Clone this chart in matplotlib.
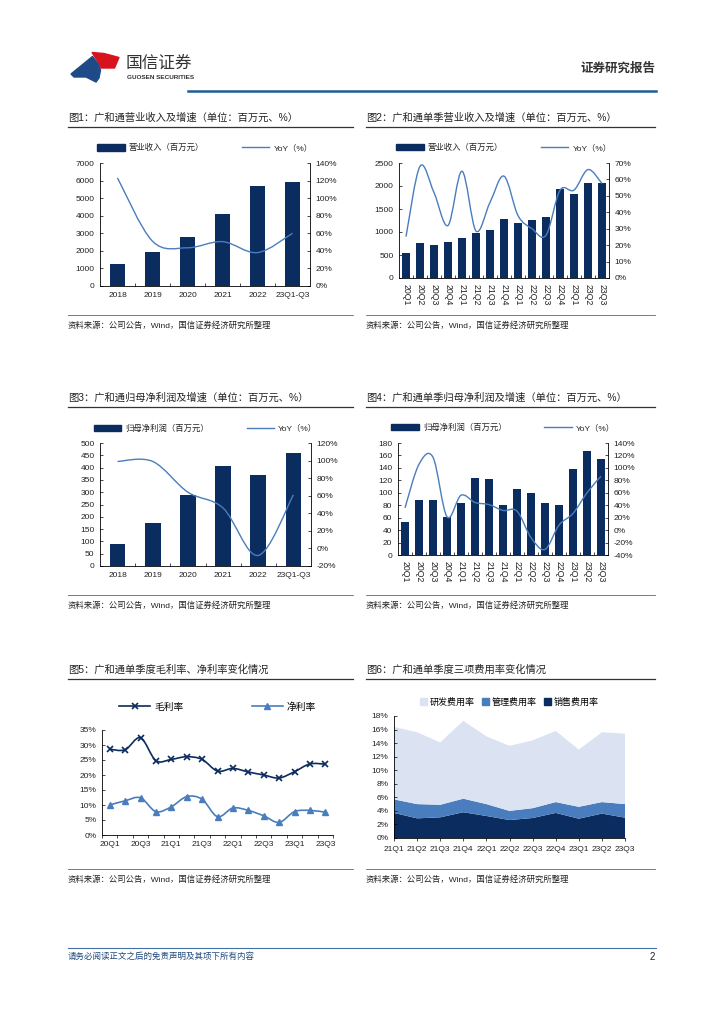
import numpy as np
import matplotlib
matplotlib.use('Agg')
import matplotlib.pyplot as plt
from matplotlib.path import Path
from matplotlib.patches import PathPatch, Polygon, Patch
from matplotlib.lines import Line2D

plt.rcParams['font.family'] = ['Liberation Sans', 'Noto Sans CJK SC', 'DejaVu Sans']
plt.rcParams['axes.linewidth'] = 0.6

W, H = 724, 1024

# ---------------- data ----------------
years = ['2018', '2019', '2020', '2021', '2022', '23Q1-Q3']
quarters = ['20Q1', '20Q2', '20Q3', '20Q4', '21Q1', '21Q2', '21Q3', '21Q4',
            '22Q1', '22Q2', '22Q3', '22Q4', '23Q1', '23Q2', '23Q3']
quarters6 = ['21Q1', '21Q2', '21Q3', '21Q4', '22Q1', '22Q2', '22Q3', '22Q4',
             '23Q1', '23Q2', '23Q3']

rev_year = [1280, 1960, 2810, 4120, 5690, 5940]
rev_year_yoy = [123, 51, 43.5, 50.5, 38, 60]

rev_q = [540, 771, 720, 793, 879, 987, 1045, 1275, 1203, 1261, 1326, 1945, 1830, 2061, 2061]
rev_q_yoy = [25.2, 68, 52, 32, 65, 28.6, 46, 62, 38, 30, 26, 53.4, 53.5, 66, 57.5]

np_year = [88, 174, 288, 408, 370, 459]
np_year_yoy = [99, 99, 64, 46, -8, 61]

np_q = [53.4, 87.6, 87.6, 61.4, 82.8, 123.4, 122.3, 80, 105.8, 100.4, 83.3, 80, 137.8, 167.2, 153.8]
np_q_yoy = [35.8, 105.8, 117, 21.4, 56, 44.4, 41, 31.6, 30.5, -12, -31, 8, 26.8, 60, 86.6]

gross_margin = [28.6, 28.4, 32.4, 24.8, 25.2, 26.1, 25.2, 21.3, 22.2, 21.0, 20.0, 19.0, 21.1, 23.7, 23.6]
net_margin = [10.0, 11.4, 12.4, 7.8, 9.4, 12.8, 11.9, 6.1, 9.0, 8.2, 6.4, 4.2, 7.8, 8.2, 7.6]

sales_rate = [3.7, 2.9, 3.05, 3.8, 3.25, 2.65, 2.95, 3.7, 2.85, 3.6, 3.0]
admin_rate = [2.0, 2.1, 1.85, 2.0, 1.75, 1.35, 1.45, 1.6, 1.75, 1.7, 2.0]
rd_rate = [10.7, 10.6, 9.2, 11.5, 10.0, 9.6, 10.0, 10.5, 8.45, 10.3, 10.4]

NAVY = '#0b2c5f'
BLUE = '#4a7dbd'
LIGHT = '#dbe3f3'
TXT = '#222222'


def fx(x):
    return x / W


def fy(y):
    return 1 - y / H


def ax_rect(l, t, r, b):
    return [fx(l), fy(b), (r - l) / W, (b - t) / H]


def smooth_line(ax, x, y, **kw):
    pts = np.column_stack([np.asarray(x, float), np.asarray(y, float)])
    ext = np.vstack([pts[0], pts, pts[-1]])
    verts = [pts[0]]
    codes = [Path.MOVETO]
    for i in range(len(pts) - 1):
        p0, p1, p2, p3 = ext[i], ext[i + 1], ext[i + 2], ext[i + 3]
        verts += [p1 + (p2 - p0) / 6, p2 - (p3 - p1) / 6, p2]
        codes += [Path.CURVE4] * 3
    ax.add_patch(PathPatch(Path(verts, codes), fill=False, **kw))


def hline(fig, x0, x1, y, color, lw):
    fig.add_artist(Line2D([fx(x0), fx(x1)], [fy(y), fy(y)], color=color, lw=lw,
                          transform=fig.transFigure))


def panel_frame(fig, x0, x1, ytitle, yline, ysrc_line, ysrc, title):
    fig.text(fx(x0), fy(ytitle), title, fontsize=7.4, color=TXT, va='center', ha='left')
    hline(fig, x0, x1, yline, '#333333', 0.9)
    hline(fig, x0, x1, ysrc_line, '#666666', 0.6)
    fig.text(fx(x0), fy(ysrc), '资料来源：公司公告，Wind，国信证券经济研究所整理',
             fontsize=6.0, color=TXT, va='center', ha='left')


def bar_line_chart(fig, rect, cats, bars, yoy, ylim, yticks, y2lim, y2ticks,
                   bar_label, width, rotate, legend_y):
    ax = fig.add_axes(rect)
    x = np.arange(len(cats))
    ax.bar(x, bars, width=width, color=NAVY, zorder=2)
    ax.set_xlim(-0.5, len(cats) - 0.5)
    ax.set_ylim(*ylim)
    ax.set_yticks(yticks)
    ax.set_xticks(x)
    if rotate:
        ax.set_xticklabels(cats, rotation=-90, fontsize=6.3)
    else:
        ax.set_xticklabels(cats, fontsize=6)
    ax.set_xticks(np.arange(len(cats) - 1) + 0.5, minor=True)
    ax.tick_params(axis='x', which='major', length=0, pad=4)
    ax.tick_params(axis='x', which='minor', length=2.5, direction='in', width=0.5)
    ax.tick_params(axis='y', labelsize=6, length=2.5, direction='in', width=0.5, pad=4)
    ax.spines['top'].set_visible(False)
    ax.spines['right'].set_visible(False)
    ax2 = ax.twinx()
    smooth_line(ax2, x, yoy, edgecolor=BLUE, lw=1.0, zorder=3)
    ax2.set_ylim(*y2lim)
    ax2.set_yticks(y2ticks)
    ax2.set_yticklabels(['%d%%' % v for v in y2ticks])
    ax2.tick_params(axis='y', labelsize=6, length=2.5, direction='in', width=0.5, pad=4)
    for s in ['top', 'left', 'bottom']:
        ax2.spines[s].set_visible(False)
    handles = [Patch(color=NAVY), Line2D([], [], color=BLUE, lw=1.0)]
    ax.legend(handles, [bar_label, 'YoY（%）'], loc='center', bbox_to_anchor=(0.5, legend_y),
              ncol=2, frameon=False, fontsize=6, handlelength=3.3, handleheight=0.75,
              columnspacing=4.5, handletextpad=0.5, borderaxespad=0)
    for t in ax.get_legend().get_texts():
        t.set_color(TXT)
    return ax, ax2


fig = plt.figure(figsize=(W / 100, H / 100), dpi=100)

# ---------------- header ----------------
red = [(92, 52.5), (104, 53.5), (119, 57.5), (114.5, 68), (101, 68), (97.5, 61)]
blue = [(71, 74), (92.5, 56.5), (97.5, 63), (100.5, 70), (99, 78), (96, 82), (86, 77), (74, 77)]
fig.add_artist(Polygon([(fx(a), fy(b)) for a, b in red], closed=True, color='#d7141e',
                       transform=fig.transFigure))
fig.add_artist(Polygon([(fx(a), fy(b)) for a, b in blue], closed=True, color='#1e4b87',
                       transform=fig.transFigure))
fig.text(fx(126), fy(63), '国信证券', fontsize=12, color='#333333', va='center', ha='left')
fig.text(fx(127), fy(77.5), 'GUOSEN SECURITIES', fontsize=4.6, color='#333333',
         va='center', ha='left', fontweight='bold')
fig.text(fx(655), fy(69), '证券研究报告', fontsize=9, color='#333333', va='center',
         ha='right', fontweight='bold')
hline(fig, 188, 656, 91, '#1f5c99', 1.8)

# ---------------- footer ----------------
hline(fig, 68, 656, 948, '#4472a8', 0.8)
fig.text(fx(68), fy(957), '请务必阅读正文之后的免责声明及其项下所有内容', fontsize=6.1,
         color='#1f497d', style='italic', va='center', ha='left')
fig.text(fx(655), fy(957), '2', fontsize=7, color=TXT, va='center', ha='right')

# ---------------- panel frames ----------------
panel_frame(fig, 68, 353, 118, 127, 315, 326, '图1：广和通营业收入及增速（单位：百万元、%）')
panel_frame(fig, 366, 655, 118, 127, 315, 326, '图2：广和通单季营业收入及增速（单位：百万元、%）')
panel_frame(fig, 68, 353, 398, 407, 595, 606, '图3：广和通归母净利润及增速（单位：百万元、%）')
panel_frame(fig, 366, 655, 398, 407, 595, 606, '图4：广和通单季归母净利润及增速（单位：百万元、%）')
panel_frame(fig, 68, 353, 670, 679, 869, 880, '图5：广和通单季度毛利率、净利率变化情况')
panel_frame(fig, 366, 655, 670, 679, 869, 880, '图6：广和通单季度三项费用率变化情况')

# ---------------- chart 1 ----------------
bar_line_chart(fig, ax_rect(100, 163, 310, 286), years, rev_year, rev_year_yoy,
               (0, 7000), range(0, 7001, 1000), (0, 140), list(range(0, 141, 20)),
               '营业收入（百万元）', 0.45, False, 1.12)

# ---------------- chart 2 ----------------
bar_line_chart(fig, ax_rect(399, 163, 609, 278), quarters, rev_q, rev_q_yoy,
               (0, 2500), range(0, 2501, 500), (0, 70), list(range(0, 71, 10)),
               '营业收入（百万元）', 0.6, True, 1.13)

# ---------------- chart 3 ----------------
bar_line_chart(fig, ax_rect(100, 443, 311, 566), years, np_year, np_year_yoy,
               (0, 500), range(0, 501, 50), (-20, 120), list(range(-20, 121, 20)),
               '归母净利润（百万元）', 0.45, False, 1.12)

# ---------------- chart 4 ----------------
bar_line_chart(fig, ax_rect(398, 443, 608, 555), quarters, np_q, np_q_yoy,
               (0, 180), range(0, 181, 20), (-40, 140), list(range(-40, 141, 20)),
               '归母净利润（百万元）', 0.6, True, 1.135)

# ---------------- chart 5 ----------------
ax5 = fig.add_axes(ax_rect(102, 730, 333, 835))
x5 = np.arange(len(quarters))
smooth_line(ax5, x5, gross_margin, edgecolor=NAVY, lw=1.2, zorder=3)
ax5.plot(x5, gross_margin, linestyle='none', marker='x', ms=4.5, mew=1.2, color=NAVY, zorder=4)
smooth_line(ax5, x5, net_margin, edgecolor=BLUE, lw=1.2, zorder=3)
ax5.plot(x5, net_margin, linestyle='none', marker='^', ms=4.5, color=BLUE, zorder=4)
ax5.set_xlim(-0.5, len(quarters) - 0.5)
ax5.set_ylim(0, 35)
ax5.set_yticks(range(0, 36, 5))
ax5.set_yticklabels(['%d%%' % v for v in range(0, 36, 5)])
ax5.set_xticks(x5[::2])
ax5.set_xticklabels(quarters[::2], fontsize=6)
ax5.set_xticks(np.arange(len(quarters) + 1) - 0.5, minor=True)
ax5.tick_params(axis='x', which='major', length=0, pad=4)
ax5.tick_params(axis='x', which='minor', length=2.5, direction='out', width=0.5)
ax5.tick_params(axis='y', labelsize=6, length=2.5, direction='in', width=0.5, pad=4)
ax5.spines['top'].set_visible(False)
ax5.spines['right'].set_visible(False)
h5 = [Line2D([], [], color=NAVY, lw=1.2, marker='x', ms=4.5, mew=1.2),
      Line2D([], [], color=BLUE, lw=1.2, marker='^', ms=4.5)]
leg5 = ax5.legend(h5, ['毛利率', '净利率'], loc='center', bbox_to_anchor=(0.5, 1.22), ncol=2,
                  frameon=False, fontsize=7, handlelength=3.2, columnspacing=7,
                  handletextpad=0.4, borderaxespad=0)

# ---------------- chart 6 ----------------
ax6 = fig.add_axes(ax_rect(394, 716, 625, 838))
x6 = np.arange(len(quarters6))
ax6.stackplot(x6, sales_rate, admin_rate, rd_rate, colors=[NAVY, BLUE, LIGHT],
              labels=['销售费用率', '管理费用率', '研发费用率'], lw=0)
ax6.set_xlim(0, len(quarters6) - 1)
ax6.set_ylim(0, 18)
ax6.set_yticks(range(0, 19, 2))
ax6.set_yticklabels(['%d%%' % v for v in range(0, 19, 2)])
ax6.set_xticks(x6)
ax6.set_xticklabels(quarters6, fontsize=6)
ax6.tick_params(axis='x', length=2.5, direction='out', width=0.5, pad=3)
ax6.tick_params(axis='y', labelsize=6, length=2.5, direction='in', width=0.5, pad=4)
ax6.spines['top'].set_visible(False)
ax6.spines['right'].set_visible(False)
h6 = [Patch(color=LIGHT), Patch(color=BLUE), Patch(color=NAVY)]
ax6.legend(h6, ['研发费用率', '管理费用率', '销售费用率'], loc='center',
           bbox_to_anchor=(0.5, 1.115), ncol=3, frameon=False, fontsize=6.5,
           handlelength=0.8, handleheight=0.8, columnspacing=0.8, handletextpad=0.3,
           borderaxespad=0)

for a in fig.axes:
    for lab in a.get_xticklabels() + a.get_yticklabels():
        lab.set_color(TXT)

fig.savefig('out.png', dpi=100)
